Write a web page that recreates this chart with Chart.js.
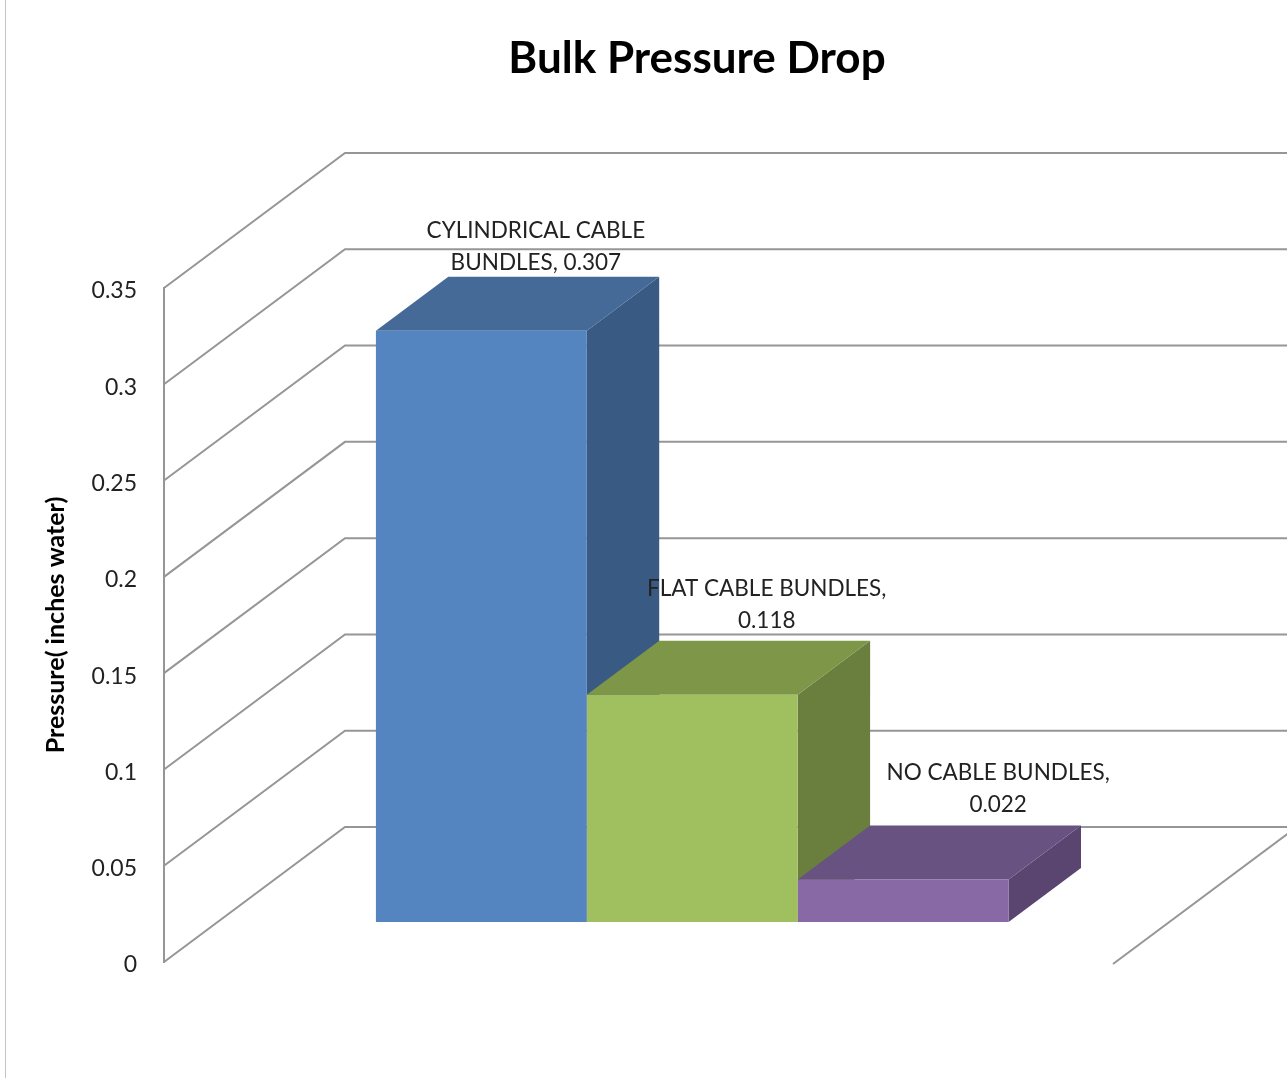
<!DOCTYPE html>
<html>
<head>
<meta charset="utf-8">
<title>Bulk Pressure Drop</title>
<script src="https://cdn.jsdelivr.net/npm/chart.js@4/dist/chart.umd.min.js"></script>
<style>
    html, body { margin: 0; padding: 0; background: #fff; overflow: hidden; }
    canvas { display: block; }
</style>
</head>
<body>
<canvas id="pressureChart" width="1287" height="1078"></canvas>
<script>
// --- DATA ---
const categories = ['Pressure drop'];
const seriesNames = ['CYLINDRICAL CABLE BUNDLES', 'FLAT CABLE BUNDLES', 'NO CABLE BUNDLES'];
const cylindricalValues = [0.307];
const flatValues = [0.118];
const noCableValues = [0.022];
const tickLabels = ['0', '0.05', '0.1', '0.15', '0.2', '0.25', '0.3', '0.35'];
const labelFirstLines = ['CYLINDRICAL CABLE', 'FLAT CABLE BUNDLES,', 'NO CABLE BUNDLES,'];
const labelSecondPrefix = ['BUNDLES, ', '', ''];

// --- 3D LOOK ---
const FONT = 'Lato, "Open Sans", sans-serif';
const GRID_COLOR = '#969696';
const WALL_DX = 181, WALL_DY = -135;       // floor depth, front edge to back wall
const BAR_START = 0.297, BAR_DEPTH = 0.4;  // where the bars sit on that floor
const TITLE_SHIFT = 120.5;                 // title is centred over the whole plot, not the cut-off part
const TICK_SHIFT = 3;                      // Lato sits high on a middle baseline
const faceColors = [
    { front: '#5585c0', top: '#456a98', side: '#395a82' },
    { front: '#a0bf5f', top: '#7d9648', side: '#6a7e3e' },
    { front: '#8869a6', top: '#685282', side: '#5a4570' }
];
// data label anchor, relative to the top centre of each front face
const labelNudge = [{ x: 54.5, y: -68 }, { x: 74.5, y: -74 }, { x: 95, y: -75 }];

function poly(ctx, pts, fill) {
    ctx.beginPath();
    pts.forEach((p, i) => i ? ctx.lineTo(p[0], p[1]) : ctx.moveTo(p[0], p[1]));
    ctx.closePath();
    ctx.fillStyle = fill;
    ctx.fill();
}

const box3d = {
    id: 'box3d',
    afterLayout(chart) {
        chart.titleBlock.left += TITLE_SHIFT;
        chart.titleBlock.right += TITLE_SHIFT;
        chart.scales.y.getLabelItems(chart.chartArea).forEach(item => {
            item.options.translation[1] += TICK_SHIFT;
        });
    },
    beforeDatasetsDraw(chart) {
        const { ctx, chartArea, scales } = chart;
        ctx.save();

        // back wall gridlines and their run across the side wall
        ctx.strokeStyle = GRID_COLOR;
        ctx.lineWidth = 2;
        scales.y.ticks.forEach(t => {
            const py = scales.y.getPixelForValue(t.value);
            ctx.beginPath();
            ctx.moveTo(chartArea.left, py);
            ctx.lineTo(chartArea.left + WALL_DX, py + WALL_DY);
            ctx.lineTo(chartArea.right + WALL_DX, py + WALL_DY);
            ctx.stroke();
        });
        // floor edge on the right
        const floorY = scales.y.getPixelForValue(0);
        ctx.beginPath();
        ctx.moveTo(chartArea.right, floorY + 2);
        ctx.lineTo(chartArea.right + WALL_DX, floorY + 2 + WALL_DY);
        ctx.stroke();

        // top and side faces, left to right so each bar covers the one before
        const ox = WALL_DX * BAR_START, oy = WALL_DY * BAR_START;
        const dx = WALL_DX * BAR_DEPTH, dy = WALL_DY * BAR_DEPTH;
        chart.data.datasets.forEach((ds, i) => {
            const bar = chart.getDatasetMeta(i).data[0];
            const l = bar.x - bar.width / 2 + ox, r = bar.x + bar.width / 2 + ox;
            const t = bar.y + oy, b = bar.base + oy;
            poly(ctx, [[r, t], [r + dx, t + dy], [r + dx, b + dy], [r, b]], faceColors[i].side);
            poly(ctx, [[l, t], [r, t], [r + dx, t + dy], [l + dx, t + dy]], faceColors[i].top);
        });
        ctx.restore();

        // front faces come from the library, pushed back onto the floor
        ctx.save();
        ctx.translate(ox, oy);
    },
    afterDatasetsDraw(chart) {
        const { ctx } = chart;
        ctx.restore();

        ctx.save();
        ctx.font = '22.5px ' + FONT;
        ctx.fillStyle = '#222';
        ctx.textAlign = 'center';
        ctx.textBaseline = 'middle';
        chart.data.datasets.forEach((ds, i) => {
            const bar = chart.getDatasetMeta(i).data[0];
            const cx = bar.x + WALL_DX * BAR_START + labelNudge[i].x;
            const cy = bar.y + WALL_DY * BAR_START + labelNudge[i].y;
            ctx.fillText(labelFirstLines[i], cx, cy - 32);
            ctx.fillText(labelSecondPrefix[i] + ds.data[0].toFixed(3), cx, cy);
        });

        // thin frame line down the left side of the page
        ctx.fillStyle = '#c4c4c4';
        ctx.fillRect(5, 0, 1, chart.height);
        ctx.restore();
    }
};

// --- CHART ---
new Chart(document.getElementById('pressureChart'), {
    type: 'bar',
    data: {
        labels: categories,
        datasets: [
            { label: seriesNames[0], data: cylindricalValues, backgroundColor: faceColors[0].front },
            { label: seriesNames[1], data: flatValues, backgroundColor: faceColors[1].front },
            { label: seriesNames[2], data: noCableValues, backgroundColor: faceColors[2].front }
        ]
    },
    options: {
        responsive: false,
        animation: false,
        events: [],
        clip: false,
        categoryPercentage: 2 / 3,
        barPercentage: 1,
        layout: { padding: { left: 40, right: 174, bottom: 116, top: 0 } },
        scales: {
            x: { display: false },
            y: {
                min: 0,
                max: 0.35,
                ticks: {
                    stepSize: 0.05,
                    padding: 27,
                    color: '#222',
                    font: { family: FONT, size: 23 },
                    callback: (v, i) => tickLabels[i]
                },
                grid: { display: false, drawTicks: false },
                border: { display: true, color: GRID_COLOR, width: 2 },
                title: {
                    display: true,
                    text: 'Pressure( inches water)',
                    color: '#000',
                    font: { family: FONT, size: 25, weight: 'bold' },
                    padding: { top: 1, bottom: 0 }
                },
                afterFit(scale) { scale.width = 124; }
            }
        },
        plugins: {
            legend: { display: false },
            tooltip: { enabled: false },
            title: {
                display: true,
                text: 'Bulk Pressure Drop',
                color: '#000',
                font: { family: FONT, size: 44, weight: 'bold', lineHeight: 1 },
                padding: { top: 37, bottom: 207 }
            }
        }
    },
    plugins: [box3d]
});
</script>
</body>
</html>
